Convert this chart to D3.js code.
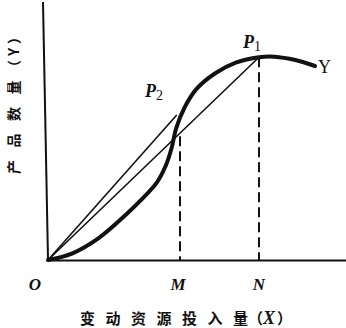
<!DOCTYPE html>
<html>
<head>
<meta charset="utf-8">
<script src="https://cdn.jsdelivr.net/npm/d3@7"></script>
<style>
  body { margin: 0; background: #fff; }
  svg { display: block; }
  .cjk { font-family: "Noto Sans CJK SC", sans-serif; font-weight: 700; fill: #111; }
  .lat { font-family: "Liberation Serif", "DejaVu Serif", serif; font-style: italic; font-weight: 700; fill: #111; }
</style>
</head>
<body>
<div id="chart"></div>
<script>
// data (X and Y in chart units, 0..100)
var curveX = [0, 8, 17, 27, 31, 36.5, 39.5, 41.5, 43, 46, 50, 56, 63, 70.8, 76, 83, 89.6];
var curveY = [0, 2.5, 8.5, 18.5, 23, 30, 36.5, 43.5, 51, 59.5, 66.5, 72.3, 76.5, 78.6, 78.8, 77.5, 75.2];
var p1 = [70.8, 78.6];
var p2 = [43.2, 56.2];
var mX = 44.3;
var mTop = 48;
var nX = 70.8;

var svgWidth = 346;
var svgHeight = 328;

var svg = d3.select("#chart")
  .append("svg")
  .attr("width", svgWidth)
  .attr("height", svgHeight);

var xScale = d3.scaleLinear().domain([0, 100]).range([48, 346]);
var yScale = d3.scaleLinear().domain([0, 100]).range([260, 2]);

var ink = "#111";

// axes
svg.append("line")
  .attr("x1", xScale(0)).attr("y1", yScale(0))
  .attr("x2", xScale(0) - 5).attr("y2", yScale(100))
  .attr("stroke", ink).attr("stroke-width", 2);

svg.append("g")
  .attr("transform", "translate(0," + yScale(0) + ")")
  .call(d3.axisBottom(xScale).ticks(0).tickSizeOuter(0))
  .select(".domain")
  .attr("stroke", ink).attr("stroke-width", 2);

// rays from origin
[p2, p1].forEach(function(p) {
  svg.append("line")
    .attr("x1", xScale(0)).attr("y1", yScale(0))
    .attr("x2", xScale(p[0])).attr("y2", yScale(p[1]))
    .attr("stroke", ink).attr("stroke-width", 1.6);
});

// dashed drop lines
svg.append("line")
  .attr("x1", xScale(mX)).attr("y1", yScale(mTop))
  .attr("x2", xScale(mX)).attr("y2", yScale(0))
  .attr("stroke", ink).attr("stroke-width", 2)
  .attr("stroke-dasharray", "10,5");

svg.append("line")
  .attr("x1", xScale(nX)).attr("y1", yScale(p1[1]))
  .attr("x2", xScale(nX)).attr("y2", yScale(0))
  .attr("stroke", ink).attr("stroke-width", 2)
  .attr("stroke-dasharray", "10,5");

// production curve
var line = d3.line()
  .x(function(d, i) { return xScale(curveX[i]); })
  .y(function(d, i) { return yScale(curveY[i]); })
  .curve(d3.curveCatmullRom.alpha(0.5));

svg.append("path")
  .datum(curveX)
  .attr("d", line)
  .attr("fill", "none")
  .attr("stroke", ink)
  .attr("stroke-width", 4)
  .attr("stroke-linecap", "round");

// labels
svg.append("text").attr("class", "lat")
  .attr("x", 35).attr("y", 290)
  .attr("text-anchor", "middle").attr("font-size", 17)
  .text("O");

svg.append("text").attr("class", "lat")
  .attr("x", xScale(mX) - 2).attr("y", 290)
  .attr("text-anchor", "middle").attr("font-size", 17)
  .text("M");

svg.append("text").attr("class", "lat")
  .attr("x", xScale(nX)).attr("y", 290)
  .attr("text-anchor", "middle").attr("font-size", 17)
  .text("N");

var t1 = svg.append("text").attr("class", "lat")
  .attr("x", 243).attr("y", 48).attr("font-size", 18);
t1.append("tspan").text("P");
t1.append("tspan").attr("dy", 3).attr("font-size", 14).attr("font-style", "normal").attr("font-weight", 400).text("1");

var t2 = svg.append("text").attr("class", "lat")
  .attr("x", 145).attr("y", 97).attr("font-size", 18);
t2.append("tspan").text("P");
t2.append("tspan").attr("dy", 3).attr("font-size", 14).attr("font-style", "normal").attr("font-weight", 400).text("2");

svg.append("text")
  .attr("x", 318).attr("y", 73)
  .attr("font-family", "Liberation Serif, DejaVu Serif, serif")
  .attr("font-size", 18)
  .attr("fill", ink)
  .text("Y");

var xt = svg.append("text").attr("class", "cjk")
  .attr("x", 80).attr("y", 324)
  .attr("font-size", 15);
xt.append("tspan").attr("letter-spacing", 10.5).text("变动资源投入");
xt.append("tspan").text("量（");
xt.append("tspan").attr("class", "lat").attr("font-size", 18).attr("dx", 0).text("X");
xt.append("tspan").attr("dx", 2).text("）");

var yt = svg.append("text").attr("class", "cjk")
  .attr("transform", "translate(19,174) rotate(-90)")
  .attr("font-size", 14);
yt.append("tspan").attr("letter-spacing", 12.5).text("产品数量");
yt.append("tspan").attr("dx", -6).attr("letter-spacing", 4).text("（Y）");
</script>
</body>
</html>
